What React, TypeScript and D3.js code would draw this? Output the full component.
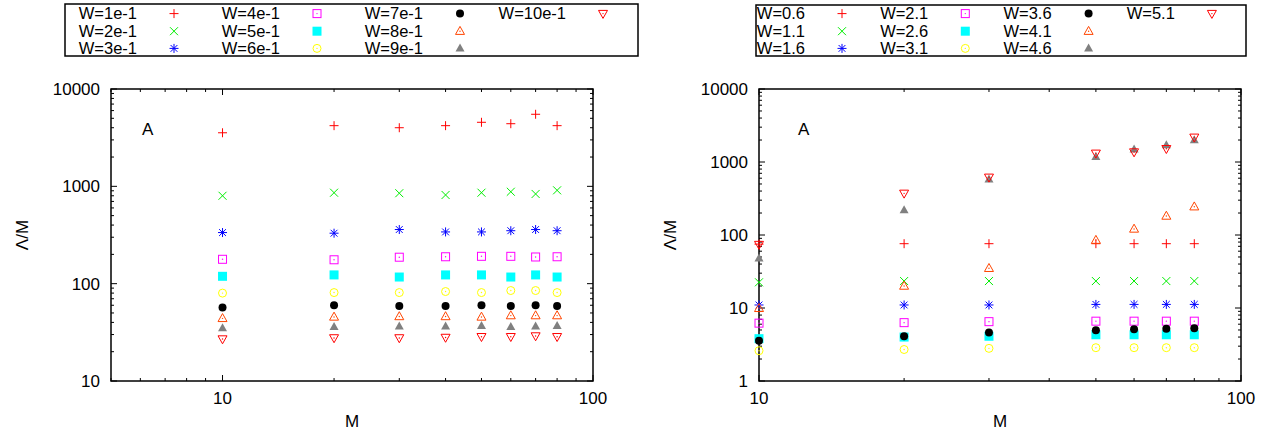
import React from "react";
import * as d3 from "d3";

// Left panel: W = 1e-1 .. 10e-1
const leftM = [10, 20, 30, 40, 50, 60, 70, 80];
const leftLabels = [
  "W=1e-1", "W=2e-1", "W=3e-1", "W=4e-1", "W=5e-1",
  "W=6e-1", "W=7e-1", "W=8e-1", "W=9e-1", "W=10e-1",
];
const leftValues = [
  [3550, 4200, 4000, 4200, 4550, 4400, 5500, 4200],
  [800, 860, 850, 815, 860, 880, 835, 910],
  [335, 330, 360, 340, 340, 350, 360, 350],
  [178, 176, 187, 189, 191, 191, 188, 189],
  [119, 123, 117, 123, 123, 117, 123, 117],
  [80, 81, 81, 83, 81, 85, 85, 81],
  [57, 60, 59, 59, 60, 59, 60, 59],
  [44, 45.5, 46, 46, 45.5, 47, 47, 47],
  [35, 36, 36.5, 36.5, 37, 36, 36.5, 37],
  [27, 27.7, 27.7, 28, 28.5, 28.5, 29, 28.5],
];

// Right panel: W = 0.6 .. 5.1
const rightM = [10, 20, 30, 50, 60, 70, 80];
const rightLabels = [
  "W=0.6", "W=1.1", "W=1.6", "W=2.1", "W=2.6",
  "W=3.1", "W=3.6", "W=4.1", "W=4.6", "W=5.1",
];
const rightValues = [
  [75, 76, 76, 76, 76, 76, 76],
  [22.5, 23.4, 23.4, 23.4, 23.4, 23.4, 23.4],
  [11, 11, 11, 11.2, 11.2, 11.2, 11.2],
  [6.2, 6.3, 6.5, 6.6, 6.6, 6.6, 6.6],
  [3.8, 4.0, 4.1, 4.3, 4.3, 4.3, 4.3],
  [2.6, 2.7, 2.8, 2.86, 2.86, 2.86, 2.86],
  [3.55, 4.1, 4.6, 4.95, 5.1, 5.2, 5.3],
  [9.9, 20, 35, 85, 121, 182, 244],
  [48, 220, 580, 1180, 1490, 1710, 2000],
  [74, 372, 617, 1316, 1370, 1520, 2180],
];

const COLORS = [
  "#ff0000", "#00ee00", "#0000ff", "#ff00ff", "#00ffff",
  "#ffff00", "#000000", "#ff4500", "#808080", "#ff0000",
];

const FONT = "Liberation Sans, Arial, Helvetica, sans-serif";

function Marker({ kind, x, y, color }: { kind: number; x: number; y: number; color: string }) {
  const dot = <circle cx={x} cy={y} r={0.7} fill={color} />;
  const sw = 1;
  switch (kind) {
    case 0: {
      const s = 4.5;
      return <path d={`M${x - s},${y}H${x + s}M${x},${y - s}V${y + s}`} stroke={color} strokeWidth={sw} fill="none" />;
    }
    case 1: {
      const s = 4;
      return <path d={`M${x - s},${y - s}L${x + s},${y + s}M${x - s},${y + s}L${x + s},${y - s}`} stroke={color} strokeWidth={sw} fill="none" />;
    }
    case 2: {
      const s = 4.5, c = 3.4;
      return (
        <path
          d={`M${x - s},${y}H${x + s}M${x},${y - s}V${y + s}M${x - c},${y - c}L${x + c},${y + c}M${x - c},${y + c}L${x + c},${y - c}`}
          stroke={color} strokeWidth={sw} fill="none"
        />
      );
    }
    case 3:
      return (
        <g>
          <rect x={x - 4} y={y - 4} width={8} height={8} stroke={color} strokeWidth={sw} fill="none" />
          {dot}
        </g>
      );
    case 4:
      return <rect x={x - 4.5} y={y - 4.5} width={9} height={9} fill={color} />;
    case 5:
      return (
        <g>
          <circle cx={x} cy={y} r={4} stroke={color} strokeWidth={sw} fill="none" />
          {dot}
        </g>
      );
    case 6:
      return <circle cx={x} cy={y} r={4} fill={color} />;
    case 7:
      return (
        <g>
          <path d={`M${x},${y - 4.8}L${x + 4.5},${y + 3.2}L${x - 4.5},${y + 3.2}Z`} stroke={color} strokeWidth={sw} fill="none" />
          {dot}
        </g>
      );
    case 8:
      return <path d={`M${x},${y - 4.8}L${x + 4.5},${y + 3.2}L${x - 4.5},${y + 3.2}Z`} fill={color} />;
    default:
      return (
        <g>
          <path d={`M${x},${y + 4.8}L${x + 4.5},${y - 3.2}L${x - 4.5},${y - 3.2}Z`} stroke={color} strokeWidth={sw} fill="none" />
          {dot}
        </g>
      );
  }
}

interface LegendProps {
  labels: string[];
  box: [number, number, number, number];
  marker0: number;
  step: number;
}

function Legend({ labels, box, marker0, step }: LegendProps) {
  const rows = [13.6, 31.2, 48.4];
  return (
    <g>
      <rect x={box[0]} y={box[1]} width={box[2]} height={box[3]} fill="none" stroke="#000" strokeWidth={1.5} />
      {labels.map((lab, i) => {
        const col = Math.floor(i / 3);
        const row = i % 3;
        const mx = marker0 + col * step;
        const my = rows[row];
        return (
          <g key={lab}>
            <text x={mx - 37} y={my + 5.8} textAnchor="end" fontSize={16.5} fontFamily={FONT}>
              {lab}
            </text>
            <Marker kind={i} x={mx} y={my} color={COLORS[i]} />
          </g>
        );
      })}
    </g>
  );
}

interface PanelProps {
  left: number;
  right: number;
  xDomain: [number, number];
  yDomain: [number, number];
  mValues: number[];
  values: number[][];
  letterX: number;
}

function Panel({ left, right, xDomain, yDomain, mValues, values, letterX }: PanelProps) {
  const top = 89;
  const bottom = 381;
  const x = d3.scaleLog().domain(xDomain).range([left, right]);
  const y = d3.scaleLog().domain(yDomain).range([bottom, top]);
  const isMajor = (v: number) => Math.abs(Math.log10(v) - Math.round(Math.log10(v))) < 1e-9;
  const xt = x.ticks();
  const yt = y.ticks();
  return (
    <g fontFamily={FONT}>
      {xt.map((t) => {
        const len = isMajor(t) ? 6 : 3;
        const px = x(t);
        return (
          <g key={"x" + t}>
            <line x1={px} x2={px} y1={bottom} y2={bottom - len} stroke="#000" strokeWidth={1} />
            <line x1={px} x2={px} y1={top} y2={top + len} stroke="#000" strokeWidth={1} />
            {isMajor(t) && (
              <text x={px} y={404} textAnchor="middle" fontSize={17}>
                {d3.format("d")(t)}
              </text>
            )}
          </g>
        );
      })}
      {yt.map((t) => {
        const len = isMajor(t) ? 6 : 3;
        const py = y(t);
        return (
          <g key={"y" + t}>
            <line x1={left} x2={left + len} y1={py} y2={py} stroke="#000" strokeWidth={1} />
            <line x1={right} x2={right - len} y1={py} y2={py} stroke="#000" strokeWidth={1} />
            {isMajor(t) && (
              <text x={left - 11} y={py} dy="0.36em" textAnchor="end" fontSize={17}>
                {d3.format("d")(t)}
              </text>
            )}
          </g>
        );
      })}
      <rect x={left} y={top} width={right - left} height={bottom - top} fill="none" stroke="#000" strokeWidth={1.5} />
      <text x={(left + right) / 2} y={427} textAnchor="middle" fontSize={17}>M</text>
      <text transform={`translate(${left - 83},${(top + bottom) / 2}) rotate(-90)`} textAnchor="middle" fontSize={17}>
        Λ/M
      </text>
      <text x={letterX} y={135} fontSize={17}>A</text>
      {values.map((series, si) =>
        series.map((v, j) => (
          <Marker key={si + "-" + j} kind={si} x={x(mValues[j])} y={y(v)} color={COLORS[si]} />
        ))
      )}
    </g>
  );
}

export default function App() {
  return (
    <svg
      width={1266}
      height={431}
      style={{ position: "absolute", left: 0, top: 0, background: "#fff" }}
    >
      <rect width={1266} height={431} fill="#fff" />
      <Legend labels={leftLabels} box={[65, 4, 573, 52]} marker0={174} step={143} />
      <Legend labels={rightLabels} box={[756, 5, 490, 51]} marker0={842} step={123.3} />
      <Panel left={111} right={593} xDomain={[5, 100]} yDomain={[10, 10000]} mValues={leftM} values={leftValues} letterX={142} />
      <Panel left={759} right={1241} xDomain={[10, 100]} yDomain={[1, 10000]} mValues={rightM} values={rightValues} letterX={798} />
    </svg>
  );
}
